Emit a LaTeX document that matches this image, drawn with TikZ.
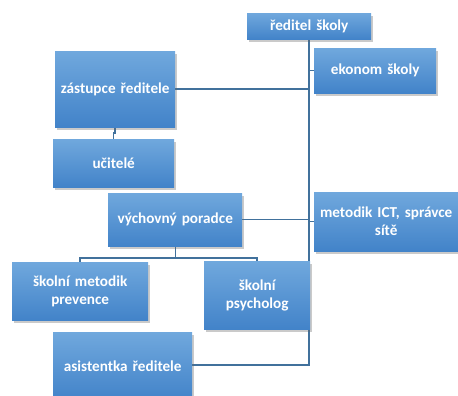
\documentclass[tikz,border=0pt]{standalone}
\usepackage{fontspec}
\setmainfont{Carlito}
\usetikzlibrary{shadows}
\hyphenpenalty=10000
\exhyphenpenalty=10000
\definecolor{boxtop}{HTML}{70A8DD}
\definecolor{boxbot}{HTML}{4283C9}
\definecolor{linec}{HTML}{41719C}
\tikzset{
  box/.style={anchor=north west, inner sep=0pt, align=center,
    top color=boxtop, bottom color=boxbot, draw=none,
    font=\fontsize{15.2}{18}\selectfont\bfseries, text=white,
    drop shadow={shadow xshift=1.5pt, shadow yshift=-2.5pt, opacity=0.35, fill=black!60}},
  conn/.style={draw=linec, line width=1.7pt}
}
\newcommand{\bx}[6]{% name, x1, y1, x2, y2, text
  \node[box, minimum width={#4-#2}, minimum height={#5-#3}, text width={#4-#2-2}] (#1) at (#2,#3) {#6};}
\begin{document}
\begin{tikzpicture}[x=1pt, y=-1pt]
\useasboundingbox (0,0) rectangle (458,396);
% connectors (drawn first so boxes sit over them)
\coordinate (top) at (309,39);
\coordinate (bot) at (309,365);
\coordinate (zastR) at (175,89);
\coordinate (ekoL) at (314,70.5);
\coordinate (vychR) at (242,219.5);
\coordinate (ictL) at (314,221.5);
\coordinate (asistR) at (192,365);
\coordinate (zastB) at (115,127);
\coordinate (ucitT) at (113.5,139);
\coordinate (vychB) at (175.5,246);
\coordinate (vb) at (175.5,258);
\coordinate (prevT) at (80,262);
\coordinate (psychT) at (257,261);
\draw[conn] (top) -- (bot) -- (asistR);
\draw[conn] (zastR) -- (zastR -| top);
\draw[conn] (ekoL) -- (ekoL -| top);
\draw[conn] (vychR) -- (vychR -| top);
\draw[conn] (ictL) -- (ictL -| top);
\draw[conn] (zastB) -- ++(0,6) -| (ucitT);
\draw[conn] (vychB) -- (vb);
\draw[conn] (vb) -| (prevT);
\draw[conn] (vb) -| (psychT);
% boxes
\bx{dir}{247}{13}{371}{39}{ředitel školy}
\bx{eko}{314}{48}{436}{93}{ekonom školy}
\bx{zast}{55}{51}{175}{127}{zástupce ředitele}
\bx{ucit}{53}{139}{174}{187}{učitelé}
\bx{vych}{108}{193}{242}{246}{výchovný poradce}
\bx{ict}{314}{192}{458}{251}{\makebox[0pt]{metodik ICT, správce}\\ sítě}
\bx{prev}{12}{262}{148}{320}{školní metodik prevence}
\bx{psych}{204}{261}{310}{329}{školní psycholog}
\bx{asist}{53}{332}{192}{400}{asistentka ředitele}
\end{tikzpicture}
\end{document}
